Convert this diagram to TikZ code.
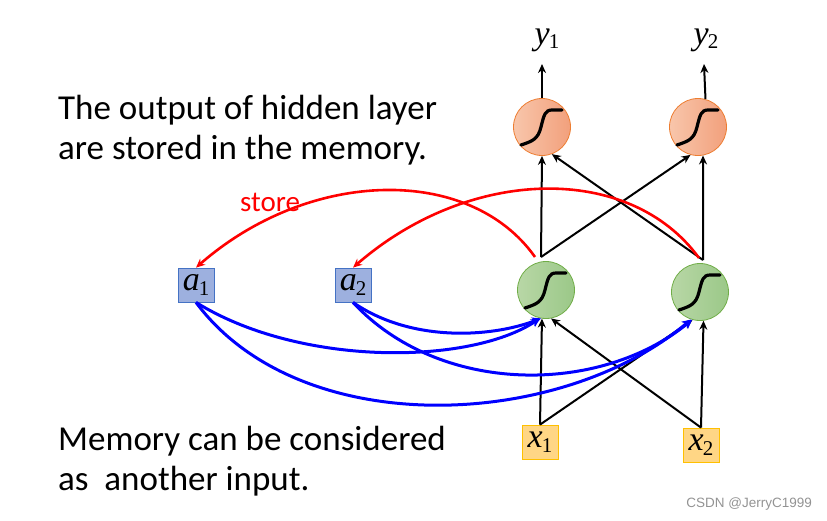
\documentclass[tikz,border=0pt]{standalone}
\usepackage{fontspec}
\setmainfont{Carlito}
\newfontfamily\tms{Liberation Serif}
\newfontfamily\wmfont{Liberation Sans}
\usetikzlibrary{arrows.meta}
\definecolor{orA}{HTML}{F8C6AB}
\definecolor{orB}{HTML}{F2A07C}
\definecolor{orD}{HTML}{ED7D31}
\definecolor{grA}{HTML}{B8D7A6}
\definecolor{grB}{HTML}{9BC888}
\definecolor{grD}{HTML}{70AD47}
\definecolor{abF}{HTML}{9DB0DF}
\definecolor{abD}{HTML}{4472C4}
\definecolor{xbF}{HTML}{FFD685}
\definecolor{xbD}{HTML}{FFC000}
\newcommand\lab[2]{{\tms\fontsize{34}{34}\selectfont\textit{#1}\kern-1pt\raisebox{-0.3ex}{\fontsize{21}{21}\selectfont #2}}}
\newcommand\sigm[1]{\draw[sigline,shift={(#1)}] (-21,18) .. controls (-9,14) and (-4,12) .. (-1,0) .. controls (2,-12) and (3,-17) .. (10,-17) -- (20,-17);}
\tikzset{
  outn/.style={circle,minimum size=57pt,inner sep=0pt,draw=orD,line width=0.8pt,left color=orA,right color=orB},
  hidn/.style={circle,minimum size=57pt,inner sep=0pt,draw=grD,line width=0.8pt,left color=grA,right color=grB},
  abox/.style={rectangle,minimum width=36pt,minimum height=34pt,inner sep=0pt,draw=abD,line width=0.8pt,fill=abF},
  xbox/.style={rectangle,minimum width=36pt,minimum height=34pt,inner sep=0pt,draw=xbD,line width=0.8pt,fill=xbF},
  sigline/.style={line width=3.2pt,black,line cap=round},
  blk/.style={line width=2pt,black,-{Stealth[length=9pt,width=8pt]}},
  redl/.style={line width=2.6pt,red,-{Stealth[length=9pt,width=8pt]}},
  blul/.style={line width=3pt,blue,-{Stealth[length=9pt,width=9pt]}},
  bigtxt/.style={anchor=base west,inner sep=0pt,font=\fontsize{35}{40}\selectfont},
}
\begin{document}
\begin{tikzpicture}[x=1pt,y=-1pt]
\useasboundingbox (0,0) rectangle (827,520);
% texts
\node[bigtxt] (t1) at (58,119) {The output of hidden layer};
\node[bigtxt] (t2) at (58,159) {are stored in the memory.};
\node[bigtxt] (t3) at (58,450) {Memory can be considered};
\node[bigtxt] (t4) at (58,490) {as\ \ another input.};
\node[anchor=base,inner sep=0pt,text=red,font=\fontsize{29}{29}\selectfont] (st) at (270,211) {store};
\node[anchor=base east,inner sep=0pt,text=gray!85,font=\wmfont\fontsize{13.5}{14}\selectfont] (wm) at (812,507) {CSDN @JerryC1999};
% neurons
\node[outn] (o1) at (542,127) {};
\node[outn] (o2) at (698,127) {};
\node[hidn] (h1) at (546,290) {};
\node[hidn] (h2) at (700,292) {};
\sigm{o1.center}\sigm{o2.center}\sigm{h1.center}\sigm{h2.center}
\node[abox] (a1) at (196,285) {\lab{a}{1}};
\node[abox] (a2) at (353,285) {\lab{a}{2}};
\node[xbox] (x1) at (540,442) {\lab{x}{1}};
\node[xbox] (x2) at (701,445) {\lab{x}{2}};
\node[inner sep=0pt] (y1) at (547,40) {\lab{y}{1}};
\node[inner sep=0pt] (y2) at (706,40) {\lab{y}{2}};
% outputs
\coordinate (ty1) at (542,64);
\coordinate (ty2) at (704,64);
\draw[blk] (o1.north) -- (ty1);
\draw[blk] (o2.75) -- (ty2);
% hidden to output
\coordinate (h1t) at (541,257);
\coordinate (h2t) at (703,260);
\draw[blk] (h1t) -- (o1.-90);
\draw[blk] (h1t) -- (o2.-105);
\draw[blk] (h2t) -- (o1.-70);
\draw[blk] (h2t) -- (o2.-80);
% inputs to hidden
\draw[blk] (x1.north) -- (h1.-98);
\draw[blk] (x1.north) -- (h2.-105);
\draw[blk] (x2.north) -- (h1.-80);
\draw[blk] (x2.north) -- (h2.-83);
% store (red)
\coordinate (r1s) at (535,257);
\coordinate (r2s) at (699,258);
\draw[redl] (r1s) .. controls (470,165) and (310,168) .. (a1.north);
\draw[redl] (r2s) .. controls (630,163) and (470,166) .. (a2.north);
% memory as input (blue)
\draw[blul] (a1.south) .. controls (300,367) and (470,365) .. (h1.-102);
\draw[blul] (a1.south) .. controls (300,442) and (560,430) .. (h2.-108);
\draw[blul] (a2.south) .. controls (410,342) and (490,338) .. (h1.-100);
\draw[blul] (a2.south) .. controls (440,396) and (600,395) .. (h2.-106);
\end{tikzpicture}
\end{document}
